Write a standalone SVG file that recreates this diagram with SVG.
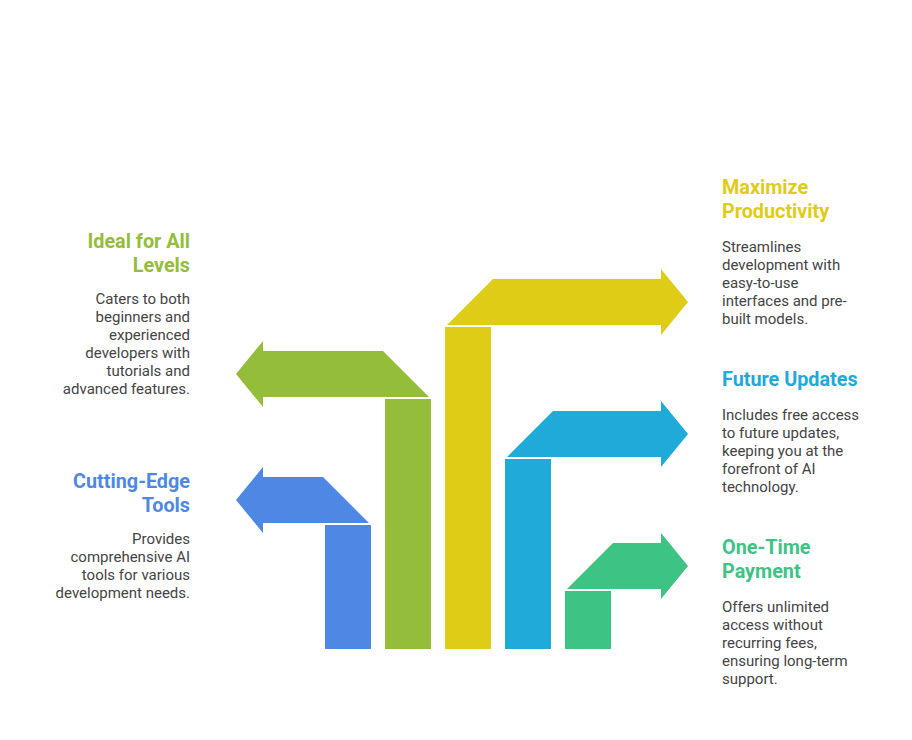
<svg xmlns="http://www.w3.org/2000/svg" width="912" height="740" viewBox="0 0 912 740">
<style>
.t{font-family:Roboto,"Liberation Sans",sans-serif;font-weight:bold;font-size:19.8px}
.b{font-family:Roboto,"Liberation Sans",sans-serif;font-size:15px;fill:#444}
.l{text-anchor:end}
</style>
<rect width="912" height="740" fill="#fff"/>
<g id="cutting-edge">
<rect x="325" y="525" width="46" height="124" fill="#4e88e4"/>
<polygon points="236,500 263,467 263,477 323,477 369,523 263,523 263,533" fill="#4e88e4"/>
<text class="t l" fill="#4e88e4"><tspan x="190" y="488">Cutting-Edge</tspan><tspan x="190" y="512">Tools</tspan></text>
<text class="b l"><tspan x="190" y="544">Provides</tspan><tspan x="190" y="562">comprehensive AI</tspan><tspan x="190" y="580">tools for various</tspan><tspan x="190" y="598">development needs.</tspan></text>
</g>
<g id="ideal">
<rect x="385" y="399" width="46" height="250" fill="#94bd3a"/>
<polygon points="236,374 263,341 263,351 383,351 429,397 263,397 263,407" fill="#94bd3a"/>
<text class="t l" fill="#94bd3a"><tspan x="190" y="248">Ideal for All</tspan><tspan x="190" y="272">Levels</tspan></text>
<text class="b l"><tspan x="190" y="304">Caters to both</tspan><tspan x="190" y="322">beginners and</tspan><tspan x="190" y="340">experienced</tspan><tspan x="190" y="358">developers with</tspan><tspan x="190" y="376">tutorials and</tspan><tspan x="190" y="394">advanced features.</tspan></text>
</g>
<g id="maximize">
<rect x="445" y="327" width="46" height="322" fill="#dfcc17"/>
<polygon points="447,325 493,279 661,279 661,269 688,302 661,335 661,325" fill="#dfcc17"/>
<text class="t" fill="#dfcc17"><tspan x="722" y="194">Maximize</tspan><tspan x="722" y="218">Productivity</tspan></text>
<text class="b"><tspan x="722" y="252">Streamlines</tspan><tspan x="722" y="270">development with</tspan><tspan x="722" y="288">easy-to-use</tspan><tspan x="722" y="306">interfaces and pre-</tspan><tspan x="722" y="324">built models.</tspan></text>
</g>
<g id="future">
<rect x="505" y="459" width="46" height="190" fill="#20aad9"/>
<polygon points="507,457 553,411 661,411 661,401 688,434 661,467 661,457" fill="#20aad9"/>
<text class="t" fill="#20aad9"><tspan x="722" y="386">Future Updates</tspan></text>
<text class="b"><tspan x="722" y="420">Includes free access</tspan><tspan x="722" y="438">to future updates,</tspan><tspan x="722" y="456">keeping you at the</tspan><tspan x="722" y="474">forefront of AI</tspan><tspan x="722" y="492">technology.</tspan></text>
</g>
<g id="onetime">
<rect x="565" y="591" width="46" height="58" fill="#3dc484"/>
<polygon points="567,589 613,543 661,543 661,533 688,566 661,599 661,589" fill="#3dc484"/>
<text class="t" fill="#3dc484"><tspan x="722" y="554">One-Time</tspan><tspan x="722" y="578">Payment</tspan></text>
<text class="b"><tspan x="722" y="612">Offers unlimited</tspan><tspan x="722" y="630">access without</tspan><tspan x="722" y="648">recurring fees,</tspan><tspan x="722" y="666">ensuring long-term</tspan><tspan x="722" y="684">support.</tspan></text>
</g>
<g id="connectors"/>
</svg>
